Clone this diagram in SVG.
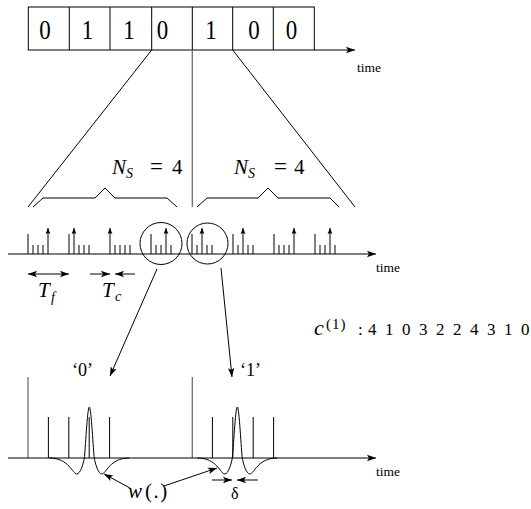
<svg xmlns="http://www.w3.org/2000/svg" width="531" height="509" viewBox="0 0 531 509">
<defs>
<marker id="ah" viewBox="-10 -4 11 8" markerWidth="11" markerHeight="8" refX="0" refY="0" orient="auto" markerUnits="userSpaceOnUse">
<path d="M0,0 L-9,-3.2 L-7,0 L-9,3.2 z" fill="#000" stroke="none"/>
</marker>
<marker id="sa" viewBox="-7 -3 8 6" markerWidth="8" markerHeight="6" refX="0" refY="0" orient="auto" markerUnits="userSpaceOnUse">
<path d="M0,0 L-6,-2.4 L-5,0 L-6,2.4 z" fill="#000" stroke="none"/>
</marker>
</defs>
<rect width="531" height="509" fill="#fff"/>

<g id="bits">
<rect x="28.3" y="7" width="286" height="43" fill="none" stroke="#000"/>
<path d="M69.3,7V50M110,7V50M151.7,7V50M192.3,7V50M232.7,7V50M273.3,7V50" fill="none" stroke="#000"/>
<path d="M314.3,50H355" fill="none" stroke="#000" marker-end="url(#ah)"/>
<text font-family="Liberation Serif, serif" font-size="27" transform="translate(45,39) scale(0.85,1)" text-anchor="middle">0</text>
<text font-family="Liberation Serif, serif" font-size="27" transform="translate(87.5,39) scale(0.85,1)" text-anchor="middle">1</text>
<text font-family="Liberation Serif, serif" font-size="27" transform="translate(129,39) scale(0.85,1)" text-anchor="middle">1</text>
<text font-family="Liberation Serif, serif" font-size="27" transform="translate(162.5,39) scale(0.85,1)" text-anchor="middle">0</text>
<text font-family="Liberation Serif, serif" font-size="27" transform="translate(211,39) scale(0.85,1)" text-anchor="middle">1</text>
<text font-family="Liberation Serif, serif" font-size="27" transform="translate(254,39) scale(0.85,1)" text-anchor="middle">0</text>
<text font-family="Liberation Serif, serif" font-size="27" transform="translate(291.5,39) scale(0.85,1)" text-anchor="middle">0</text>
<text font-family="Liberation Serif, serif" font-size="13.5" x="357" y="72">time</text>
</g>

<g id="braces" fill="none" stroke="#000">
<path d="M33,207L43,198H95L105,188L115,198H167L177,207"/>
<path d="M197,207L207,198H258L268,188L278,198H330L339,207"/>
</g>
<g id="ns-labels">
<text font-family="Liberation Serif, serif" font-size="21" y="174"><tspan x="112" font-style="italic">N</tspan><tspan x="126" y="178" font-size="14" font-style="italic">S</tspan><tspan x="150" y="174" font-size="23">=</tspan><tspan x="172" y="174">4</tspan></text>
<text font-family="Liberation Serif, serif" font-size="21" y="174"><tspan x="234" font-style="italic">N</tspan><tspan x="248" y="178" font-size="14" font-style="italic">S</tspan><tspan x="274" y="174" font-size="23">=</tspan><tspan x="294" y="174">4</tspan></text>
</g>

<g id="pulse-train" fill="none" stroke="#000">
<path d="M28,254V234M69,254V234M151,254V234M192,254V234M233,254V234M274,254V234M315,254V234"/>
<path d="M33,254V245M38,254V245M43,254V245M79,254V245M84,254V245M89,254V245M115,254V245M120,254V245M125,254V245M130,254V245M156,254V245M161,254V245M171,254V245M197,254V245M207,254V245M212,254V245M238,254V245M248,254V245M253,254V245M279,254V245M284,254V245M289,254V245M320,254V245M325,254V245M335,254V245"/>
<path d="M48,254V228" marker-end="url(#sa)"/><path d="M74,254V228" marker-end="url(#sa)"/><path d="M110,254V228" marker-end="url(#sa)"/><path d="M166,254V228" marker-end="url(#sa)"/><path d="M202,254V228" marker-end="url(#sa)"/><path d="M243,254V228" marker-end="url(#sa)"/><path d="M294,254V228" marker-end="url(#sa)"/><path d="M330,254V228" marker-end="url(#sa)"/>
<path d="M8,254H376" marker-end="url(#ah)"/>
<circle cx="161" cy="243.5" r="21"/>
<circle cx="207.5" cy="243.5" r="20.5"/>
</g>
<text font-family="Liberation Serif, serif" font-size="13.5" x="376" y="272">time</text>

<g id="Tf">
<path d="M48.5,274H69" fill="none" stroke="#000" marker-end="url(#ah)"/>
<path d="M48.5,274H28" fill="none" stroke="#000" marker-end="url(#ah)"/>
<text font-family="Liberation Serif, serif" font-size="21" y="297"><tspan x="38" font-style="italic">T</tspan><tspan x="51" y="302" font-size="14" font-style="italic">f</tspan></text>
</g>
<g id="Tc">
<path d="M90,274H110" fill="none" stroke="#000" marker-end="url(#ah)"/>
<path d="M135,274H115" fill="none" stroke="#000" marker-end="url(#ah)"/>
<text font-family="Liberation Serif, serif" font-size="21" y="297"><tspan x="102" font-style="italic">T</tspan><tspan x="115" y="301" font-size="14" font-style="italic">c</tspan></text>
</g>

<g id="code">
<text font-family="Liberation Serif, serif" y="335"><tspan x="314" font-size="22" font-style="italic">c</tspan><tspan x="326" y="329" font-size="15" letter-spacing="1">(1)</tspan><tspan x="358" y="335" font-size="17">:</tspan></text>
<text font-family="Liberation Serif, serif" font-size="17" y="335" x="368 385 402 419 436 453 470 487 504 521">4103224310</text>
</g>

<g id="bit0" fill="none" stroke="#000">
<path d="M28,458V377" stroke="#6e6e6e" stroke-width="1.3"/>
<path d="M48.4,458V417M68.8,458V417M89.2,458V417M109.6,458V417"/>
<path d="M49.3,458C69.3,458 72.3,474 76.8,474C80.3,474 83.3,464 84.3,458C85.3,452 87.3,407 89.3,407C91.3,407 93.3,452 94.3,458C95.3,464 98.3,474 101.8,474C106.3,474 109.3,458 129.3,458"/>
</g>
<text font-family="Liberation Serif, serif" font-size="18" x="72" y="376">&#8216;0&#8217;</text>

<g id="bit1" fill="none" stroke="#000">
<path d="M192.3,458V377" stroke="#6e6e6e" stroke-width="1.3"/>
<path d="M212.4,458V417M232.8,458V417M253.2,458V417M273.6,458V417"/>
<path d="M197.3,458C217.3,458 220.3,474 224.8,474C228.3,474 231.3,464 232.3,458C233.3,452 235.3,407 237.3,407C239.3,407 241.3,452 242.3,458C243.3,464 246.3,474 249.8,474C254.3,474 257.3,458 277.3,458"/>
</g>
<text font-family="Liberation Serif, serif" font-size="18" x="240" y="376">&#8216;1&#8217;</text>

<g id="axis-bottom">
<path d="M8,458H376" fill="none" stroke="#000" marker-end="url(#ah)"/>
<text font-family="Liberation Serif, serif" font-size="13.5" x="376" y="476">time</text>
</g>

<g id="labels">
<text font-family="Liberation Serif, serif" font-size="21" y="498"><tspan x="128" font-style="italic">w</tspan><tspan x="145" letter-spacing="1.5">(.)</tspan></text>
<path d="M212,480H232" fill="none" stroke="#000" marker-end="url(#ah)"/>
<path d="M258,480H237" fill="none" stroke="#000" marker-end="url(#ah)"/>
<text font-family="Liberation Serif, serif" font-size="16" x="231" y="499">&#948;</text>
</g>

<g id="connectors" fill="none" stroke="#000">
<path d="M151.7,50L28,207"/>
<path d="M192.3,50V207" stroke="#6e6e6e" stroke-width="1.3"/>
<path d="M232.7,50L355,207"/>
<path d="M157,269L110,376" marker-end="url(#ah)"/>
<path d="M221,268L232,377" marker-end="url(#ah)"/>
<path d="M130,488L104,474" marker-end="url(#ah)"/>
<path d="M164,486L217,468" marker-end="url(#ah)"/>
</g>
</svg>
